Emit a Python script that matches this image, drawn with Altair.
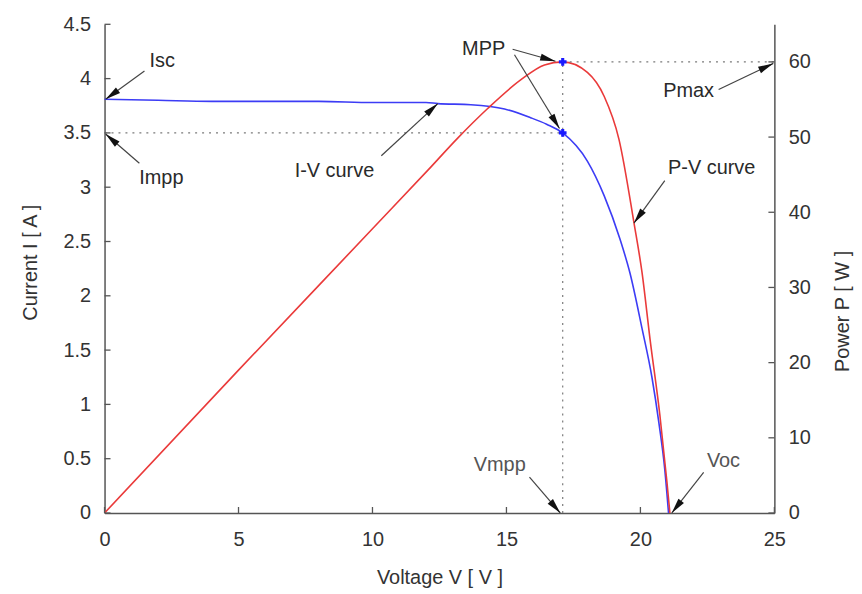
import math
import altair as alt
import pandas as pd

# ---------------- data ----------------
# I-V curve (voltage V, current A)
iv_v = [0, 2, 4, 6, 8, 10, 12, 12.44, 13.67, 14.93, 15.9, 16.5, 17.1,
        18.02, 18.65, 19.24, 19.61, 20.06, 20.43, 20.69, 20.91, 21.05]
iv_i = [3.81, 3.80, 3.79, 3.79, 3.79, 3.78, 3.78, 3.77, 3.76, 3.72, 3.64, 3.58, 3.50,
        3.24, 2.92, 2.52, 2.21, 1.70, 1.25, 0.83, 0.40, 0.0]

# P-V curve (voltage V, power W)
pv_v = [0, 5, 10, 12.07, 13.19, 14.3, 15.53, 16.42, 17.1,
        18.02, 18.65, 19.2, 19.76, 20.06, 20.36, 20.73, 20.99, 21.1]
pv_p = [0, 19.0, 37.8, 45.6, 49.9, 53.8, 57.6, 59.6, 60.0,
        58.6, 55.4, 49.7, 38.6, 32.0, 23.1, 12.9, 4.1, 0.0]

# maximum power point
v_mpp = 17.1
i_mpp = 3.5
p_max = 60.0

# tick values
x_ticks = [0, 5, 10, 15, 20, 25]
i_ticks = [0, 0.5, 1, 1.5, 2, 2.5, 3, 3.5, 4, 4.5]
p_ticks = [0, 10, 20, 30, 40, 50, 60]

# annotations (positions in V / A units)
ann_text = ["Isc", "Impp", "I-V curve", "MPP", "Pmax", "P-V curve", "Vmpp", "Voc"]
ann_v = [2.15, 2.12, 8.58, 14.15, 21.8, 22.66, 14.75, 23.1]
ann_i = [4.16, 3.08, 3.15, 4.27, 3.89, 3.18, 0.44, 0.48]
ann_col = ["#2a2a2a", "#2a2a2a", "#2a2a2a", "#2a2a2a", "#2a2a2a", "#2a2a2a", "#555555", "#555555"]

# arrows: tail (v0,i0) -> tip (v1,i1)
arr_v0 = [1.49, 1.30, 10.33, 15.23, 15.30, 22.92, 20.91, 15.86, 22.36]
arr_i0 = [4.07, 3.22, 3.29, 4.27, 4.22, 3.90, 3.06, 0.33, 0.375]
arr_v1 = [0.04, 0.04, 12.44, 16.83, 16.98, 24.96, 19.76, 17.01, 21.17]
arr_i1 = [3.81, 3.49, 3.77, 4.16, 3.54, 4.14, 2.67, 0.0, 0.0]

# ---------------- chart ----------------
W, H = 673, 491
V_MAX, I_MAX, P_MAX = 25, 4.5, 65
FONT = "Liberation Sans"
BLUE = "#3c3cf5"
RED = "#ea3a3a"
AXC = "#555555"
TXT = "#333333"

iv_df = pd.DataFrame({"V": iv_v, "I": iv_i})
pv_df = pd.DataFrame({"V": pv_v, "P": pv_p})
ann_df = pd.DataFrame({"V": ann_v, "I": ann_i, "t": ann_text, "c": ann_col})
angles = [math.degrees(math.atan2((b - a) * W / V_MAX, (d - c) * H / I_MAX)) % 360
          for a, b, c, d in zip(arr_v0, arr_v1, arr_i0, arr_i1)]
arr_df = pd.DataFrame({"v0": arr_v0, "i0": arr_i0, "v1": arr_v1, "i1": arr_i1, "ang": angles})
xt_df = pd.DataFrame({"t": x_ticks})
it_df = pd.DataFrame({"t": i_ticks})
pt_df = pd.DataFrame({"t": p_ticks})
mpp_i_df = pd.DataFrame({"V": [v_mpp], "I": [i_mpp], "V0": [0]})
mpp_p_df = pd.DataFrame({"V": [v_mpp], "P": [p_max], "V2": [V_MAX], "P0": [0]})

xs = alt.Scale(domain=[0, V_MAX], nice=False)
ys = alt.Scale(domain=[0, I_MAX], nice=False)
ps = alt.Scale(domain=[0, P_MAX], nice=False)

# the same x axis definition is given to every layer so that the shared axis merges cleanly
x_axis = alt.Axis(values=x_ticks, format="d", title="Voltage V [ V ]", labelPadding=17,
                  labelFlush=False, labelOverlap=False,
                  titleY=65, titleBaseline="middle")
y_axis = alt.Axis(values=i_ticks, format="~g", title="Current I [ A ]", orient="left",
                  labelPadding=14, labelFlush=False, labelOverlap=False,
                  titleAngle=270, titleX=-74, titleY=239, titleAlign="center",
                  titleBaseline="middle")
p_axis = alt.Axis(values=p_ticks, format="d", title="Power P [ W ]", orient="right",
                  labelPadding=14, labelFlush=False, labelOverlap=False,
                  titleAngle=270, titleX=68, titleY=288, titleAlign="center",
                  titleBaseline="middle")


def X(field):
    return alt.X(field, type="quantitative", scale=xs, axis=x_axis)


DOT = dict(color="#7a7a7a", strokeDash=[2, 5], strokeWidth=1.2)

# ---- layers on the current scale ----
iv_line = alt.Chart(iv_df).mark_line(color=BLUE, strokeWidth=1.6, interpolate="monotone").encode(
    x=X("V"),
    y=alt.Y("I:Q", scale=ys, axis=y_axis),
)
impp_dot = alt.Chart(mpp_i_df).mark_rule(**DOT).encode(
    x=X("V0"), x2="V:Q",
    y=alt.Y("I:Q", scale=ys, axis=None),
)
mpp_i_pt = alt.Chart(mpp_i_df).mark_point(shape="cross", filled=True, size=60, color="#1a1aff", opacity=1).encode(
    x=X("V"),
    y=alt.Y("I:Q", scale=ys, axis=None),
)
arrow_lines = alt.Chart(arr_df).mark_rule(color="#444444", strokeWidth=1.2).encode(
    x=X("v0"), x2="v1:Q",
    y=alt.Y("i0:Q", scale=ys, axis=None), y2="i1:Q",
)
arrow_heads = alt.Chart(arr_df).mark_point(
    shape="M0,0L-0.5,2.2L0.5,2.2Z", filled=True, size=196, color="#111111", opacity=1
).encode(
    x=X("v1"),
    y=alt.Y("i1:Q", scale=ys, axis=None),
    angle=alt.Angle("ang:Q", scale=None),
)
labels = alt.Chart(ann_df).mark_text(font=FONT, fontSize=20, align="center", baseline="middle").encode(
    x=X("V"),
    y=alt.Y("I:Q", scale=ys, axis=None),
    text="t:N",
    color=alt.Color("c:N", scale=None),
)
left_ticks = alt.Chart(it_df).mark_rule(color=AXC, strokeWidth=1.3).encode(
    y=alt.Y("t:Q", scale=ys, axis=None), x=alt.value(0), x2=alt.value(6),
)
bottom_ticks = alt.Chart(xt_df).mark_rule(color=AXC, strokeWidth=1.3).encode(
    x=X("t"), y=alt.value(H), y2=alt.value(H - 6),
)

# ---- layers on the power scale ----
pv_line = alt.Chart(pv_df).mark_line(color=RED, strokeWidth=1.6, interpolate="monotone").encode(
    x=X("V"),
    y=alt.Y("P:Q", scale=ps, axis=p_axis),
)
pmax_dot = alt.Chart(mpp_p_df).mark_rule(**DOT).encode(
    x=X("V"), x2="V2:Q",
    y=alt.Y("P:Q", scale=ps, axis=None),
)
vmpp_dot = alt.Chart(mpp_p_df).mark_rule(**DOT).encode(
    x=X("V"),
    y=alt.Y("P0:Q", scale=ps, axis=None), y2="P:Q",
)
mpp_p_pt = alt.Chart(mpp_p_df).mark_point(shape="cross", filled=True, size=60, color="#1a1aff", opacity=1).encode(
    x=X("V"),
    y=alt.Y("P:Q", scale=ps, axis=None),
)
right_ticks = alt.Chart(pt_df).mark_rule(color=AXC, strokeWidth=1.3).encode(
    y=alt.Y("t:Q", scale=ps, axis=None), x=alt.value(W - 6), x2=alt.value(W),
)

# flat layer: every layer has its own y scale with an explicit domain
chart = alt.layer(
    iv_line, pv_line,
    impp_dot, pmax_dot, vmpp_dot,
    mpp_i_pt, mpp_p_pt,
    left_ticks, bottom_ticks, right_ticks,
    arrow_lines, arrow_heads, labels,
).resolve_scale(y="independent").properties(
    width=W, height=H,
    autosize=alt.AutoSizeParams(type="none"),
    padding={"left": 97, "top": 15, "right": 80, "bottom": 80},
    background="white",
).configure_view(stroke=None).configure_axis(
    grid=False, ticks=False, domainColor=AXC, domainWidth=1.5,
    labelFont=FONT, labelFontSize=20, labelColor=TXT,
    titleFont=FONT, titleFontSize=20, titleFontWeight="normal", titleColor=TXT,
)

chart.save("out.html", embed_options={"renderer": "svg", "actions": False})
